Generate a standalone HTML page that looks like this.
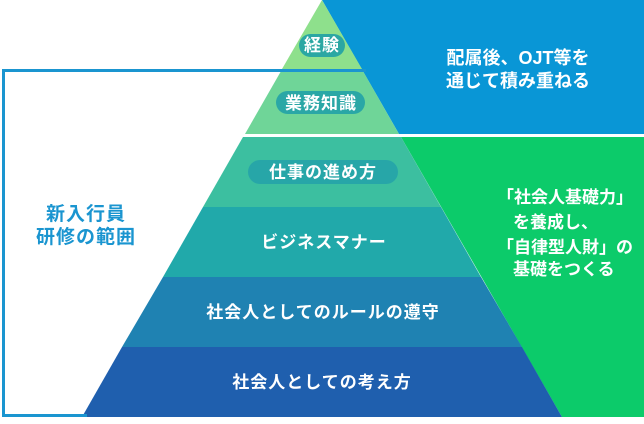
<!DOCTYPE html><html><head><meta charset="utf-8"><style>
html,body{margin:0;padding:0;background:#fff;}
svg text{font-family:"Liberation Sans","Noto Sans CJK JP",sans-serif;font-weight:bold;}
</style></head><body>
<svg width="644" height="419" viewBox="0 0 644 419" xmlns="http://www.w3.org/2000/svg">
<rect width="644" height="419" fill="#fff"/>
<polygon points="322,0 644,0 644,134 399,134" fill="#0996d6"/>
<polygon points="401,137 644,137 644,417 562,417" fill="#0ccb6a"/>
<polygon points="322,0 362,69 282,69" fill="#8ee08c"/>
<polygon points="280.5,72 363.5,72 399,134 245,134" fill="#6fd598"/>
<polygon points="243,137 401,137 441,207 203,207" fill="#3cbfa0"/>
<polygon points="203,207 441,207 481,277 163,277" fill="#21a9aa"/>
<polygon points="163,277 481,277 522,347 122,347" fill="#1f82b2"/>
<polygon points="122,347 522,347 562,417 82,417" fill="#1f5fae"/>
<rect x="2" y="69" width="364" height="3" fill="#1a95d0"/>
<rect x="2" y="69" width="3" height="348" fill="#1a95d0"/>
<rect x="2" y="414" width="85" height="3" fill="#1a95d0"/>
<rect x="299" y="34" width="46" height="23" rx="11.5" fill="#2ba7a3"/>
<rect x="276" y="91" width="89" height="23" rx="11.5" fill="#2aa7a6"/>
<rect x="248" y="160" width="150" height="24" rx="12" fill="#27a6a8"/>
<g fill="#fff" text-anchor="middle" font-size="17" letter-spacing="1">
<text x="322" y="51">経験</text>
<text x="321" y="109">業務知識</text>
<text x="323" y="178">仕事の進め方</text>
<text x="324" y="248">ビジネスマナー</text>
<text x="323" y="318">社会人としてのルールの遵守</text>
<text x="322" y="388">社会人としての考え方</text>
<text x="518" y="64" font-size="18" letter-spacing="0">配属後、OJT等を</text>
<text x="518" y="87" font-size="18" letter-spacing="0">通じて積み重ねる</text>
</g>
<g fill="#fff" font-size="17">
<text x="497" y="203">「社会人基礎力」</text>
<text x="513" y="228">を養成し、</text>
<text x="497" y="253">「自律型人財」の</text>
<text x="513" y="275">基礎をつくる</text>
</g>
<g fill="#1a95d0" font-size="19" text-anchor="middle" letter-spacing="1">
<text x="86" y="220">新入行員</text>
<text x="86" y="243">研修の範囲</text>
</g>
</svg>
</body></html>
